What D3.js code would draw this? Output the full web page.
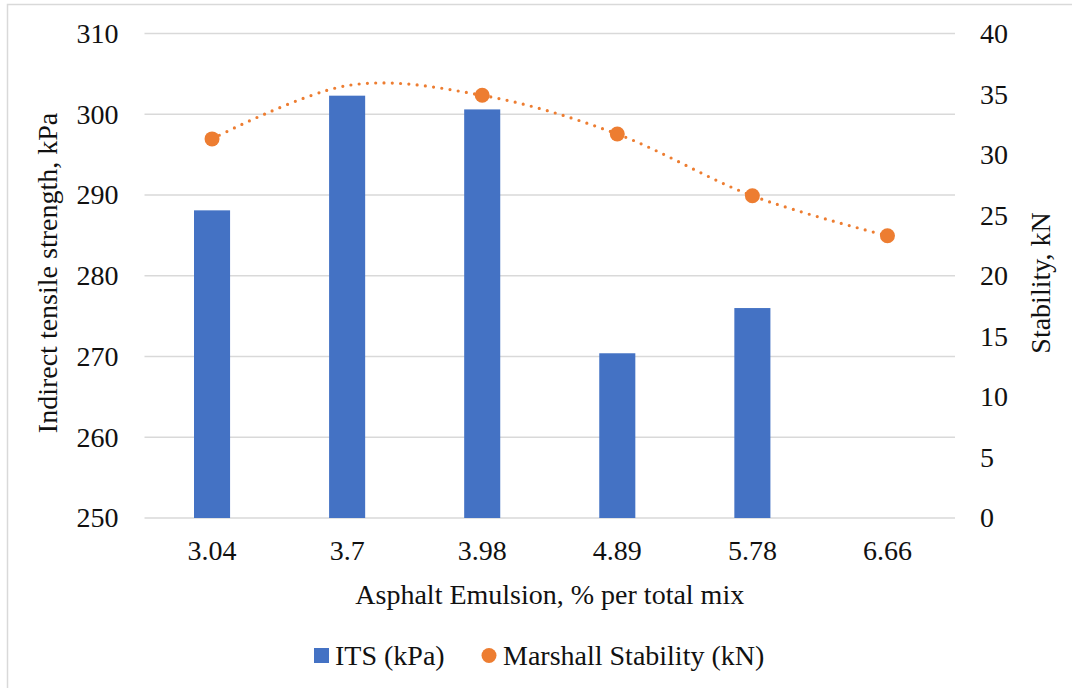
<!DOCTYPE html>
<html>
<head>
<meta charset="utf-8">
<script src="https://cdn.jsdelivr.net/npm/d3@7"></script>
<style>html,body{margin:0;background:#fff}</style>
</head>
<body>
<svg id="chart" width="1072" height="688"></svg>
<script>
// ---- data ----
const categories = ["3.04", "3.7", "3.98", "4.89", "5.78", "6.66"];
const itsValues = [288.1, 302.3, 300.6, 270.4, 276.0, null];          // ITS (kPa), left axis
const marshallValues = [31.3, 35.7, 34.9, 31.7, 26.6, 23.3];          // Marshall Stability (kN), right axis
const marshallMarkerShown = [true, false, true, true, true, true];
const leftTicks = [250, 260, 270, 280, 290, 300, 310];
const rightTicks = [0, 5, 10, 15, 20, 25, 30, 35, 40];
const seriesNames = ["ITS (kPa)", "Marshall Stability (kN)"];
const xTitle = "Asphalt Emulsion, % per total mix";
const yLeftTitle = "Indirect tensile strength, kPa";
const yRightTitle = "Stability, kN";

// ---- layout ----
const W = 1072, H = 688;
const plot = { left: 144.5, right: 955, top: 33.5, bottom: 518 };
const blue = "#4472C4", orange = "#ED7D31", grid = "#D9D9D9";
const FS = 28;
const FAMILY = "Liberation Serif";

const svg = d3.select("#chart").style("display", "block");

// outer border (chart area)
svg.append("rect")
  .attr("x", 7.5).attr("y", 4.5)
  .attr("width", W + 20).attr("height", H + 20)
  .attr("fill", "#fff").attr("stroke", grid).attr("stroke-width", 1.5);

const x = d3.scaleBand().domain(categories)
  .range([plot.left, plot.right]).paddingInner(0.733).paddingOuter(0.3665);
const yL = d3.scaleLinear().domain([250, 310]).range([plot.bottom, plot.top]);
const yR = d3.scaleLinear().domain([0, 40]).range([plot.bottom, plot.top]);

// gridlines
svg.append("g").selectAll("line").data(leftTicks).join("line")
  .attr("x1", plot.left).attr("x2", plot.right)
  .attr("y1", d => yL(d)).attr("y2", d => yL(d))
  .attr("stroke", grid).attr("stroke-width", 1.5);

function styleText(sel) {
  return sel.attr("font-size", FS).style("font-family", FAMILY).attr("fill", "#111");
}
function styleAxis(g) {
  g.select(".domain").remove();
  g.attr("font-family", null).attr("font-size", null);
  styleText(g.selectAll("text"));
}

// left axis
const gL = svg.append("g").attr("transform", `translate(${plot.left},0)`)
  .call(d3.axisLeft(yL).tickValues(leftTicks).tickSize(0).tickPadding(26));
styleAxis(gL);

// right axis
const gR = svg.append("g").attr("transform", `translate(${plot.right},0)`)
  .call(d3.axisRight(yR).tickValues(rightTicks).tickSize(0).tickPadding(25));
styleAxis(gR);

// bottom axis
const gB = svg.append("g").attr("transform", `translate(0,${plot.bottom})`)
  .call(d3.axisBottom(x).tickSize(0).tickPadding(22));
styleAxis(gB);

// bars
const barData = categories.map((c, i) => ({ c, v: itsValues[i] })).filter(d => d.v != null);
svg.append("g").selectAll("rect").data(barData).join("rect")
  .attr("x", d => x(d.c)).attr("width", x.bandwidth())
  .attr("y", d => yL(d.v)).attr("height", d => yL(250) - yL(d.v))
  .attr("fill", blue);

// smoothed dotted line
const lineData = categories.map((c, i) => ({ c, v: marshallValues[i], show: marshallMarkerShown[i] }));
const line = d3.line()
  .x(d => x(d.c) + x.bandwidth() / 2)
  .y(d => yR(d.v))
  .curve(d3.curveCatmullRom.alpha(0));
svg.append("path").datum(lineData)
  .attr("d", line).attr("fill", "none")
  .attr("stroke", orange).attr("stroke-width", 3.2)
  .attr("stroke-linecap", "round").attr("stroke-dasharray", "0 8.3");

// markers
svg.append("g").selectAll("circle").data(lineData.filter(d => d.show)).join("circle")
  .attr("cx", d => x(d.c) + x.bandwidth() / 2).attr("cy", d => yR(d.v))
  .attr("r", 7.5).attr("fill", orange);

// axis titles
styleText(svg.append("text")).attr("x", (plot.left + plot.right) / 2).attr("y", 604)
  .attr("text-anchor", "middle").text(xTitle);
styleText(svg.append("text")).attr("transform", `translate(57,273) rotate(-90)`)
  .attr("text-anchor", "middle").text(yLeftTitle);
styleText(svg.append("text")).attr("transform", `translate(1050,283) rotate(-90)`)
  .attr("text-anchor", "middle").text(yRightTitle);

// legend
const lg = svg.append("g");
lg.append("rect").attr("x", 314).attr("y", 648).attr("width", 15).attr("height", 15).attr("fill", blue);
styleText(lg.append("text")).attr("x", 335).attr("y", 665).text(seriesNames[0]);
lg.append("circle").attr("cx", 489).attr("cy", 655.5).attr("r", 7.5).attr("fill", orange);
styleText(lg.append("text")).attr("x", 503).attr("y", 665).text(seriesNames[1]);
</script>
</body>
</html>
